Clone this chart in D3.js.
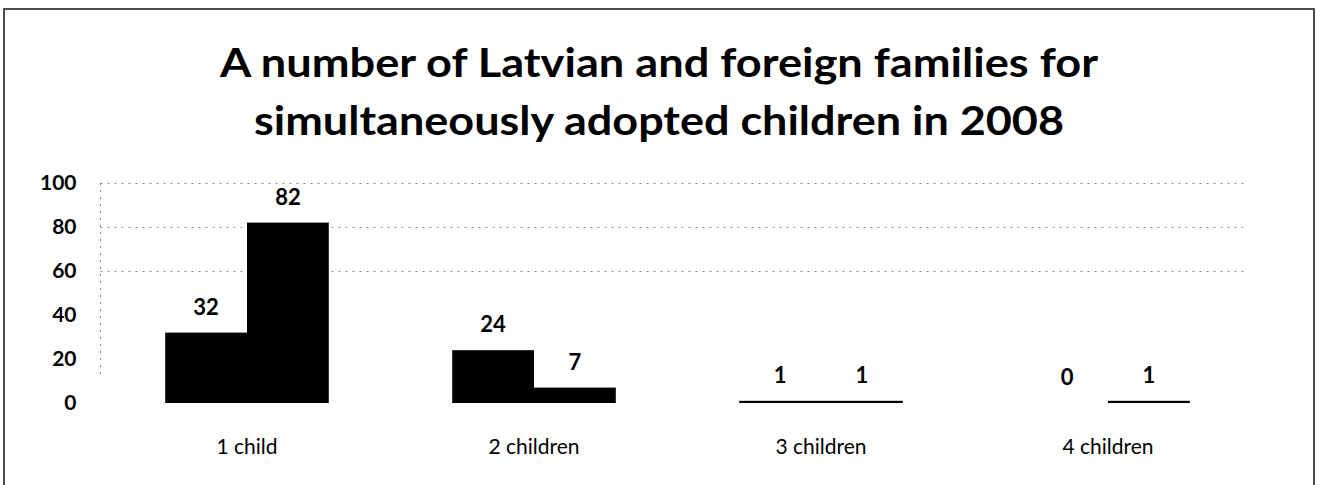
<!DOCTYPE html>
<html>
<head>
<meta charset="utf-8">
<script src="https://cdn.jsdelivr.net/npm/d3@7"></script>
<style>
  html, body { margin: 0; padding: 0; background: #fff; }
  svg { display: block; }
  text { font-family: Lato, "Open Sans", sans-serif; fill: #000; }
</style>
</head>
<body>
<svg id="chart" width="1319" height="485"></svg>
<script>
// Families adopting several children at once, 2008
const categories = ["1 child", "2 children", "3 children", "4 children"];
const seriesNames = ["Latvian families", "Foreign families"];
const latvianValues = [32, 24, 1, 0];
const foreignValues = [82, 7, 1, 1];
const yTicks = [0, 20, 40, 60, 80, 100];
const gridTicks = [60, 80, 100];
const titleLines = [
  "A number of Latvian and foreign families for",
  "simultaneously adopted children in 2008"
];

const svg = d3.select("#chart");

// outer frame
svg.append("rect")
  .attr("x", 4).attr("y", 9)
  .attr("width", 1310).attr("height", 490)
  .attr("fill", "#fff")
  .attr("stroke", "#222").attr("stroke-width", 1.6);

// title: two centred, slightly condensed bold lines
const titleWidths = [878, 810];
const titleBaselines = [77, 135];
titleLines.forEach((t, i) => {
  svg.append("text")
    .attr("x", 659).attr("y", titleBaselines[i])
    .attr("text-anchor", "middle")
    .attr("textLength", titleWidths[i])
    .attr("lengthAdjust", "spacingAndGlyphs")
    .style("font-weight", "bold")
    .style("font-size", "41px")
    .text(t);
});

// scales
const plot = { left: 103.5, right: 1251.5, top: 183, bottom: 403 };
const x = d3.scaleBand()
  .domain(categories)
  .range([plot.left, plot.right])
  .paddingInner(0.43)
  .paddingOuter(0.215);
const xs = d3.scaleBand()
  .domain(seriesNames)
  .range([0, x.bandwidth()]);
const y = d3.scaleLinear().domain([0, 100]).range([plot.bottom, plot.top]);

// faint dotted gridlines
const grid = svg.append("g")
  .attr("transform", `translate(${plot.left - 3},0)`)
  .call(d3.axisLeft(y).tickValues(gridTicks).tickSize(-(plot.right - plot.left)).tickFormat(""));
grid.select(".domain").remove();
grid.selectAll(".tick line")
  .attr("stroke", "#8a8a8a")
  .attr("stroke-width", 1)
  .attr("stroke-dasharray", "2,5");

// faint vertical axis
svg.append("line")
  .attr("x1", plot.left - 3).attr("x2", plot.left - 3)
  .attr("y1", y(100)).attr("y2", y(12))
  .attr("stroke", "#8a8a8a")
  .attr("stroke-dasharray", "2,5");

// y axis labels
const yAxis = svg.append("g")
  .attr("transform", `translate(${plot.left - 3},0)`)
  .call(d3.axisLeft(y).tickValues(yTicks).tickSize(0).tickPadding(24));
yAxis.select(".domain").remove();
yAxis.selectAll("text")
  .style("font-family", "Lato, sans-serif")
  .style("font-size", "21px")
  .style("font-weight", "bold")
  .attr("fill", "#000");

// category axis labels
const xAxis = svg.append("g")
  .attr("transform", `translate(0,${plot.bottom})`)
  .call(d3.axisBottom(x).tickSize(0).tickPadding(36));
xAxis.select(".domain").remove();
xAxis.selectAll("text")
  .style("font-family", "Lato, sans-serif")
  .style("font-size", "21px")
  .attr("fill", "#000");

// bars
const rows = categories.map((c, i) => ({
  category: c,
  values: [
    { series: seriesNames[0], value: latvianValues[i] },
    { series: seriesNames[1], value: foreignValues[i] }
  ]
}));

const groups = svg.append("g").selectAll("g")
  .data(rows)
  .join("g")
  .attr("transform", d => `translate(${x(d.category)},0)`);

groups.selectAll("rect")
  .data(d => d.values)
  .join("rect")
  .attr("x", d => xs(d.series))
  .attr("y", d => y(d.value))
  .attr("width", xs.bandwidth())
  .attr("height", d => y(0) - y(d.value))
  .attr("fill", "#000");

// value labels
groups.selectAll("text.value")
  .data(d => d.values)
  .join("text")
  .attr("class", "value")
  .attr("x", d => xs(d.series) + xs.bandwidth() / 2)
  .attr("y", d => y(d.value) - 18)
  .attr("text-anchor", "middle")
  .style("font-size", "22px")
  .style("font-weight", "bold")
  .text(d => d.value);
</script>
</body>
</html>
